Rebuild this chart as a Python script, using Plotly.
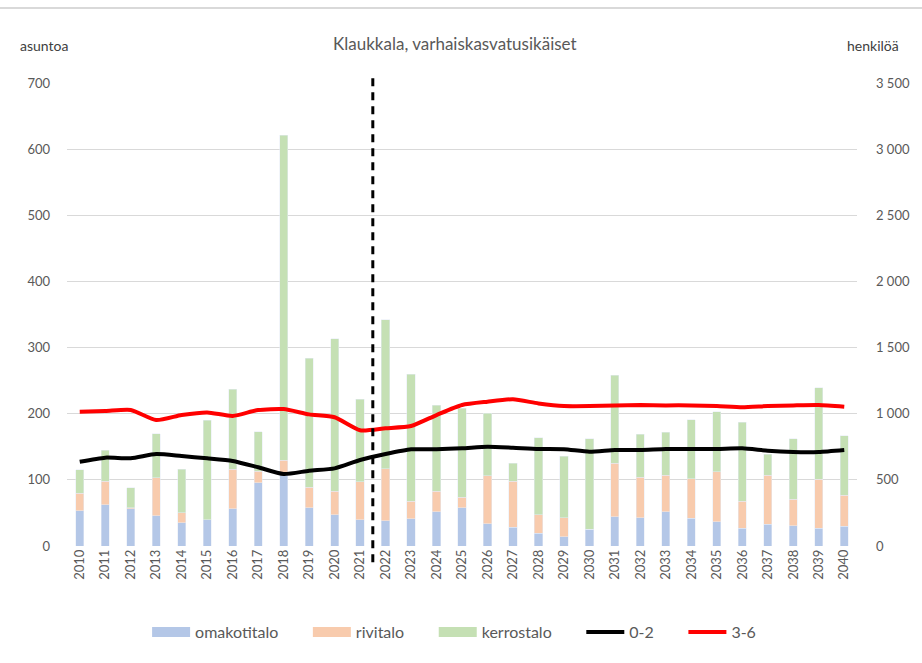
import plotly.graph_objects as go

years = list(range(2010, 2041))

# Dwellings completed per year, by building type (left axis)
omakotitalo = [53, 62, 56, 46, 35, 40, 56, 96, 107, 58, 47, 40, 38, 41, 52, 58,
               34, 28, 19, 14, 25, 44, 43, 52, 42, 37, 27, 33, 31, 27, 30]
rivitalo = [27, 36, 2, 57, 15, 0, 60, 17, 23, 31, 36, 57, 79, 27, 31, 16,
            72, 70, 28, 29, 0, 81, 61, 55, 60, 75, 41, 74, 40, 74, 47]
kerrostalo = [35, 47, 30, 67, 66, 150, 121, 60, 491, 195, 230, 125, 225, 192, 130, 134,
              95, 27, 117, 93, 137, 133, 65, 65, 89, 91, 119, 32, 91, 138, 90]

# Children by age group (right axis)
age_0_2 = [637, 668, 663, 695, 680, 663, 643, 595, 544, 569, 587, 650, 695, 731, 731, 738,
           751, 743, 733, 731, 713, 726, 726, 733, 733, 733, 738, 720, 711, 711, 726]
age_3_6 = [1015, 1020, 1028, 952, 990, 1010, 983, 1028, 1035, 995, 973, 875, 890, 907, 990, 1066,
           1091, 1109, 1078, 1058, 1058, 1063, 1066, 1063, 1063, 1058, 1048, 1058, 1063, 1066, 1053]

left_ticks = [0, 100, 200, 300, 400, 500, 600, 700]
right_ticks = [0, 500, 1000, 1500, 2000, 2500, 3000, 3500]
right_labels = ["0", "500", "1 000", "1 500", "2 000", "2 500", "3 000", "3 500"]

forecast_start = 2021.5

FONT = "Lato, 'Open Sans', sans-serif"
GREY_TXT = "#595959"
PAD = "\u00a0" * 6  # extra room after each legend label

bar_series = [("omakotitalo", omakotitalo, "#B4C7E7"),
              ("rivitalo", rivitalo, "#F8CBAD"),
              ("kerrostalo", kerrostalo, "#C5E0B4")]

fig = go.Figure()
for name, vals, color in bar_series:
    fig.add_trace(go.Bar(x=years, y=vals, name=name, marker_color=color,
                         showlegend=False, legendgroup=name))
# Wide rectangular legend keys for the bar series
for name, vals, color in bar_series:
    fig.add_trace(go.Scatter(x=[None], y=[None], name=name + PAD, mode="lines",
                             line=dict(color=color, width=10), legendgroup=name))

fig.add_trace(go.Scatter(x=years, y=age_0_2, name="0-2" + PAD, yaxis="y2", mode="lines",
                         line=dict(color="black", width=4, shape="spline", smoothing=0.6)))
fig.add_trace(go.Scatter(x=years, y=age_3_6, name="3-6", yaxis="y2", mode="lines",
                         line=dict(color="#FF0000", width=4, shape="spline", smoothing=0.6)))

fig.update_layout(
    width=922, height=663,
    margin=dict(l=67, r=65, t=83, b=117),
    paper_bgcolor="white", plot_bgcolor="white",
    barmode="stack", bargap=0.68,
    font=dict(family=FONT, size=13, color=GREY_TXT),
    showlegend=True,
    legend=dict(orientation="h", x=0.49, xanchor="center", y=-0.186, yanchor="middle",
                font=dict(size=16, color=GREY_TXT), traceorder="normal",
                itemwidth=38, tracegroupgap=0),
    xaxis=dict(range=[2009.5, 2040.5], tickmode="array", tickvals=years,
               ticktext=[str(y) for y in years], tickangle=-90,
               tickfont=dict(size=13, color=GREY_TXT),
               showgrid=False, zeroline=False, showline=False, ticks=""),
    yaxis=dict(range=[0, 700], tickmode="array", tickvals=left_ticks,
               showgrid=True, gridcolor="#D9D9D9", gridwidth=1,
               zeroline=False, showline=False, ticks="",
               tickfont=dict(size=13, color=GREY_TXT), ticklabelstandoff=16),
    yaxis2=dict(range=[0, 3500], overlaying="y", side="right", tickmode="array",
                tickvals=right_ticks, ticktext=right_labels, showgrid=False,
                zeroline=False, showline=False, ticks="",
                tickfont=dict(size=13, color=GREY_TXT), ticklabelstandoff=18),
)

# Light frame line across the top
fig.add_shape(type="line", xref="paper", yref="paper", x0=-0.09, x1=1.09,
              y0=1.162, y1=1.162, line=dict(color="#D9D9D9", width=2), layer="below")

# Dashed divider between history and forecast
fig.add_shape(type="line", xref="x", yref="paper", x0=forecast_start, x1=forecast_start,
              y0=-0.035, y1=1.011, line=dict(color="black", width=3, dash="8px,6px"),
              layer="above")

fig.add_annotation(text="Klaukkala, varhaiskasvatusikäiset", xref="paper", yref="paper",
                   x=0.491, y=1.086, showarrow=False, xanchor="center", yanchor="middle",
                   font=dict(size=17, color=GREY_TXT))
fig.add_annotation(text="asuntoa", xref="paper", yref="paper", x=-0.062, y=1.08,
                   showarrow=False, xanchor="left", yanchor="middle",
                   font=dict(size=14, color="#404040"))
fig.add_annotation(text="henkilöä", xref="paper", yref="paper", x=0.985, y=1.08,
                   showarrow=False, xanchor="left", yanchor="middle",
                   font=dict(size=14, color="#404040"))

fig.write_html("out.html")
